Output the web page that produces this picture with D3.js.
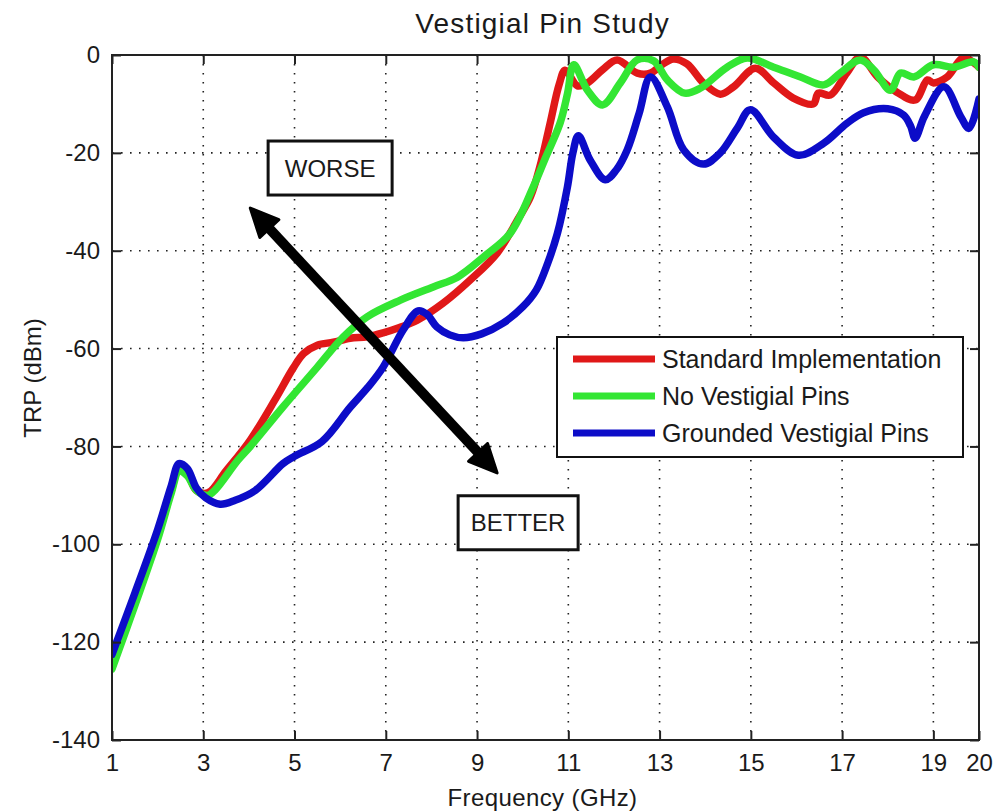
<!DOCTYPE html>
<html>
<head>
<meta charset="utf-8">
<script src="https://cdn.jsdelivr.net/npm/d3@7"></script>
<style>
  body { margin: 0; background: #fff; }
  text { font-family: "Liberation Sans", Arial, sans-serif; fill: #1a1a1a; }
</style>
</head>
<body>
<div id="chart"></div>
<script>
// ---- data ----
const xTicks = [1, 3, 5, 7, 9, 11, 13, 15, 17, 19, 20];
const yTicks = [0, -20, -40, -60, -80, -100, -120, -140];
const seriesNames = ["Standard Implementation", "No Vestigial Pins", "Grounded Vestigial Pins"];

const stdFreq = [1.0, 1.5, 2.0, 2.3, 2.47, 2.65, 2.85, 3.1, 3.5, 4.03, 4.57, 4.97, 5.2, 5.5, 5.85, 6.22, 6.59, 6.94, 7.3, 7.69, 8.26, 8.85, 9.44, 9.9, 10.17, 10.4, 10.6, 10.8, 10.93, 11.2, 11.42, 11.75, 12.07, 12.51, 12.8, 13.05, 13.3, 13.6, 13.96, 14.33, 14.62, 15.1, 15.5, 15.93, 16.37, 16.48, 16.74, 17.1, 17.4, 17.78, 18.2, 18.6, 18.87, 19.0, 19.3, 19.66, 20.0];
const stdTrp = [-125, -112, -98.5, -89, -84.5, -85.5, -89, -89.5, -85, -78.7, -70.5, -64, -61, -59.3, -58.7, -57.9, -57.6, -56.8, -55.7, -54.2, -50.7, -46, -40.5, -33.5, -29, -22, -14, -6, -3.1, -6.3, -5.7, -3, -1, -3.7, -3.7, -2, -0.8, -1.8, -5.7, -8, -6.5, -2.7, -5.7, -8.8, -10, -7.8, -8.2, -3.7, -0.4, -4.5, -7.6, -9.2, -5.1, -5.7, -4.5, -0.6, -2.5];

const noPinFreq = [1.0, 1.5, 2.0, 2.3, 2.47, 2.65, 2.85, 3.1, 3.26, 3.76, 4.03, 4.75, 5.5, 6.07, 6.59, 7.32, 8.04, 8.57, 9.14, 9.73, 10.23, 10.5, 10.82, 10.98, 11.12, 11.42, 11.75, 12.14, 12.51, 12.87, 13.17, 13.55, 13.89, 14.48, 14.92, 15.5, 16.09, 16.6, 16.96, 17.4, 17.7, 18.06, 18.28, 18.57, 19.0, 19.44, 19.88, 20.0];
const noPinTrp = [-125.5, -112.5, -99, -89.5, -85, -86, -89, -90, -88.9, -82.8, -80, -71.9, -63.8, -57.6, -53.5, -50.1, -47.4, -45.4, -41.3, -36.4, -27, -21, -13.9, -8, -2, -7.2, -10.2, -5.7, -1, -1.2, -5.1, -7.8, -6.8, -2.5, -0.6, -2.5, -4.5, -6.1, -3.7, -1, -3.1, -7.2, -3.7, -4.5, -2, -2.5, -1.4, -2.5];

const gndFreq = [1.0, 1.5, 2.0, 2.3, 2.47, 2.65, 2.85, 3.05, 3.37, 3.7, 4.14, 4.75, 5.0, 5.6, 6.22, 6.6, 6.94, 7.38, 7.71, 7.9, 8.12, 8.4, 8.7, 9.1, 9.57, 10.0, 10.3, 10.55, 10.76, 10.98, 11.1, 11.22, 11.48, 11.81, 12.05, 12.29, 12.55, 12.8, 13.17, 13.53, 13.96, 14.33, 14.7, 14.99, 15.5, 16.04, 16.6, 17.1, 17.47, 18.0, 18.35, 18.5, 18.6, 18.8, 19.23, 19.6, 19.78, 20.0];
const gndTrp = [-122.5, -110, -97, -88, -83.5, -84.5, -88.5, -90.5, -91.8, -91, -89, -83.5, -82, -79, -72, -68, -63.8, -56.2, -52.3, -53, -55.6, -57.2, -57.8, -57, -54.8, -51.5, -48, -42.5, -36.5, -27, -20, -16.5, -21.5, -25.5, -23.5, -19.4, -12, -4.5, -10.6, -19.4, -22.3, -20, -15, -11.2, -16.8, -20.5, -18, -14, -11.8, -11, -12.3, -14.5, -17, -12.6, -6.5, -12.6, -15, -9];

const seriesColors = ["#e01818", "#33e633", "#0c0cc8"];

// annotation anchors in data units (freq, dBm)
const arrowEnds = [[4.03, -31.3], [9.44, -85.4]];
const noteLabels = ["WORSE", "BETTER"];
const noteAnchors = [[5.78, -23.1], [9.9, -95.6]];

// ---- layout ----
const W = 994, H = 812;
const plot = { left: 112, right: 979, top: 55, bottom: 740 };

const svg = d3.select("#chart")
  .append("svg")
  .attr("width", W)
  .attr("height", H)
  .style("background", "#fff");

const x = d3.scaleLinear().domain([1, 20]).range([plot.left, plot.right]);
const y = d3.scaleLinear().domain([-140, 0]).range([plot.bottom, plot.top]);

// grid (dotted)
const grid = svg.append("g").attr("class", "grid");
grid.selectAll(".gx")
  .data(xTicks.filter((d) => d > 1 && d < 20))
  .enter()
  .append("line")
  .attr("x1", (d) => x(d)).attr("x2", (d) => x(d))
  .attr("y1", plot.top).attr("y2", plot.bottom)
  .attr("stroke", "#222").attr("stroke-width", 1.6)
  .attr("stroke-dasharray", "1.6,7.4");
grid.selectAll(".gy")
  .data(yTicks.filter((d) => d > -140 && d < 0))
  .enter()
  .append("line")
  .attr("x1", plot.left).attr("x2", plot.right)
  .attr("y1", (d) => y(d)).attr("y2", (d) => y(d))
  .attr("stroke", "#222").attr("stroke-width", 1.6)
  .attr("stroke-dasharray", "1.6,7.4");

// series lines
svg.append("clipPath").attr("id", "plotclip")
  .append("rect")
  .attr("x", plot.left).attr("y", plot.top)
  .attr("width", plot.right - plot.left)
  .attr("height", plot.bottom - plot.top);

const series = [
  d3.zip(stdFreq, stdTrp),
  d3.zip(noPinFreq, noPinTrp),
  d3.zip(gndFreq, gndTrp),
];

const line = d3.line()
  .x((d) => x(d[0]))
  .y((d) => y(d[1]))
  .curve(d3.curveCatmullRom.alpha(0.5));

svg.append("g")
  .attr("clip-path", "url(#plotclip)")
  .selectAll("path")
  .data(series)
  .enter()
  .append("path")
  .attr("d", line)
  .attr("fill", "none")
  .attr("stroke", (d, i) => seriesColors[i])
  .attr("stroke-width", 7.5)
  .attr("stroke-linejoin", "round")
  .attr("stroke-linecap", "round");

// axes box with inward ticks on all sides
const axes = svg.append("g").attr("class", "axes");
const tickLen = 9;
const plain = (d) => String(d); // plain hyphen minus like the original
axes.append("g")
  .attr("transform", `translate(0,${plot.bottom})`)
  .call(d3.axisBottom(x).tickValues(xTicks).tickFormat(plain).tickSizeInner(-tickLen).tickSizeOuter(0).tickPadding(14))
  .call((g) => g.select(".domain").remove());
axes.append("g")
  .attr("transform", `translate(0,${plot.top})`)
  .call(d3.axisTop(x).tickValues(xTicks).tickSizeInner(-tickLen).tickSizeOuter(0).tickFormat(""))
  .call((g) => g.select(".domain").remove());
axes.append("g")
  .attr("transform", `translate(${plot.left},0)`)
  .call(d3.axisLeft(y).tickValues(yTicks).tickFormat(plain).tickSizeInner(-tickLen).tickSizeOuter(0).tickPadding(12))
  .call((g) => g.select(".domain").remove());
axes.append("g")
  .attr("transform", `translate(${plot.right},0)`)
  .call(d3.axisRight(y).tickValues(yTicks).tickSizeInner(-tickLen).tickSizeOuter(0).tickFormat(""))
  .call((g) => g.select(".domain").remove());

axes.selectAll(".tick line").attr("stroke", "#222").attr("stroke-width", 2);
axes.selectAll(".tick text")
  .style("font-family", '"Liberation Sans", Arial, sans-serif')
  .style("font-size", "24px")
  .attr("fill", "#1a1a1a");

axes.append("rect")
  .attr("x", plot.left).attr("y", plot.top)
  .attr("width", plot.right - plot.left)
  .attr("height", plot.bottom - plot.top)
  .attr("fill", "none")
  .attr("stroke", "#222")
  .attr("stroke-width", 2);

// title and axis labels
svg.append("text")
  .attr("x", (plot.left + plot.right) / 2 - 3)
  .attr("y", 33)
  .attr("text-anchor", "middle")
  .style("font-size", "28px")
  .style("letter-spacing", "1.2px")
  .text("Vestigial Pin Study");

svg.append("text")
  .attr("x", (plot.left + plot.right) / 2 - 3)
  .attr("y", 806)
  .attr("text-anchor", "middle")
  .style("font-size", "24px")
  .style("letter-spacing", "0.4px")
  .text("Frequency (GHz)");

svg.append("text")
  .attr("transform", `translate(41,378) rotate(-90)`)
  .attr("text-anchor", "middle")
  .style("font-size", "24px")
  .text("TRP (dBm)");

// double-headed arrow
const p0 = [x(arrowEnds[0][0]), y(arrowEnds[0][1])];
const p1 = [x(arrowEnds[1][0]), y(arrowEnds[1][1])];
const dx = p1[0] - p0[0], dy = p1[1] - p0[1];
const len = Math.hypot(dx, dy);
const ux = dx / len, uy = dy / len;
const headL = 28, headW = 13;

svg.append("line")
  .attr("x1", p0[0] + ux * headL * 0.8).attr("y1", p0[1] + uy * headL * 0.8)
  .attr("x2", p1[0] - ux * headL * 0.8).attr("y2", p1[1] - uy * headL * 0.8)
  .attr("stroke", "#000").attr("stroke-width", 10);

function head(tip, dirx, diry) {
  const bx = tip[0] + dirx * headL, by = tip[1] + diry * headL;
  return [
    [tip[0], tip[1]],
    [bx - diry * headW, by + dirx * headW],
    [bx + diry * headW, by - dirx * headW],
  ];
}
svg.selectAll(".arrowhead")
  .data([head(p0, ux, uy), head(p1, -ux, -uy)])
  .enter()
  .append("path")
  .attr("class", "arrowhead")
  .attr("d", (d) => "M" + d.join("L") + "Z")
  .attr("fill", "#000")
  .attr("stroke", "#000")
  .attr("stroke-width", 3)
  .attr("stroke-linejoin", "round");

// WORSE / BETTER boxes
const notes = svg.selectAll(".note")
  .data(noteLabels)
  .enter()
  .append("g")
  .attr("class", "note")
  .attr("transform", (d, i) => `translate(${x(noteAnchors[i][0])},${y(noteAnchors[i][1])})`);
notes.append("rect")
  .attr("x", (d, i) => (i === 0 ? -62 : -60))
  .attr("y", -27)
  .attr("width", (d, i) => (i === 0 ? 124 : 120))
  .attr("height", 54)
  .attr("fill", "#fff")
  .attr("stroke", "#111")
  .attr("stroke-width", 3);
notes.append("text")
  .attr("text-anchor", "middle")
  .attr("dy", "0.36em")
  .style("font-size", "24px")
  .text((d) => d);

// legend
const legend = svg.append("g").attr("class", "legend");
legend.append("rect")
  .attr("x", 557).attr("y", 337)
  .attr("width", 406).attr("height", 120)
  .attr("fill", "#fff")
  .attr("stroke", "#111")
  .attr("stroke-width", 2);
const rows = legend.selectAll(".row")
  .data(seriesNames)
  .enter()
  .append("g")
  .attr("transform", (d, i) => `translate(573,${359 + i * 37})`);
rows.append("line")
  .attr("x1", 0).attr("x2", 82)
  .attr("stroke", (d, i) => seriesColors[i])
  .attr("stroke-width", 7);
rows.append("text")
  .attr("x", 89)
  .attr("dy", "0.36em")
  .style("font-size", "25px")
  .text((d) => d);
</script>
</body>
</html>
